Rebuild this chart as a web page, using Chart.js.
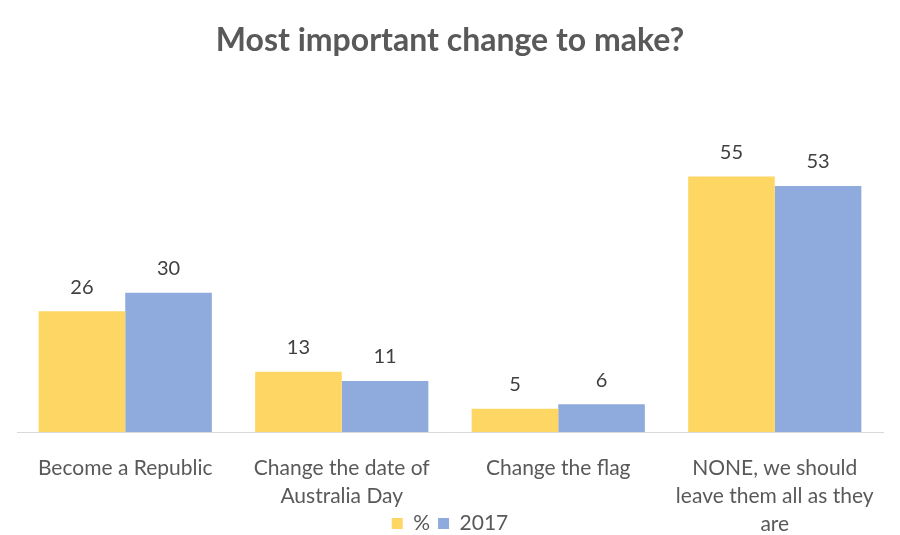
<!DOCTYPE html>
<html>
<head>
<meta charset="utf-8">
<script src="https://cdn.jsdelivr.net/npm/chart.js@4"></script>
<style>
  html, body { margin: 0; padding: 0; background: #fff; }
  #wrap { width: 900px; height: 535px; }
</style>
</head>
<body>
<div id="wrap"><canvas id="chart" width="900" height="535"></canvas></div>
<script>
const categories = [
    'Become a Republic',
    ['Change the date of', 'Australia Day'],
    'Change the flag',
    ['NONE, we should', 'leave them all as they', 'are']
];
const seriesNames = ['%', '2017'];
const pctValues = [26, 13, 5, 55];
const values2017 = [30, 11, 6, 53];
const colors = ['#FDD663', '#8FAADC'];

// draws the value above each bar
const barLabels = {
    id: 'barLabels',
    afterDatasetsDraw(chart) {
        const ctx = chart.ctx;
        ctx.save();
        ctx.font = '20px Lato';
        ctx.fillStyle = '#404040';
        ctx.textAlign = 'center';
        ctx.textBaseline = 'middle';
        chart.data.datasets.forEach((ds, i) => {
            chart.getDatasetMeta(i).data.forEach((bar, j) => {
                ctx.fillText(ds.data[j], bar.x, bar.y - 24);
            });
        });
        ctx.restore();
    }
};

// let the last tick label run down beside the legend, and drop the legend a bit
const unclipTicks = {
    id: 'unclipTicks',
    afterLayout(chart) {
        chart.scales.x.bottom = chart.height;
        chart.legend.top += 9;
    }
};

new Chart(document.getElementById('chart'), {
    type: 'bar',
    data: {
        labels: categories,
        datasets: [{
            label: seriesNames[0],
            data: pctValues,
            backgroundColor: colors[0],
            categoryPercentage: 0.8,
            barPercentage: 1.0
        }, {
            label: seriesNames[1],
            data: values2017,
            backgroundColor: colors[1],
            categoryPercentage: 0.8,
            barPercentage: 1.0
        }]
    },
    options: {
        responsive: false,
        animation: false,
        layout: { padding: { left: 17, right: 17, bottom: 0 } },
        plugins: {
            title: {
                display: true,
                text: 'Most important change to make?',
                color: '#595959',
                font: { family: 'Lato', size: 32, weight: 'bold' },
                padding: { top: 21, bottom: 94 }
            },
            legend: {
                position: 'bottom',
                labels: {
                    color: '#595959',
                    font: { family: 'Lato', size: 21 },
                    boxWidth: 11,
                    boxHeight: 11,
                    padding: 8
                }
            },
            tooltip: { enabled: false }
        },
        scales: {
            x: {
                grid: { display: false },
                border: { display: true, color: '#D9D9D9' },
                ticks: {
                    color: '#595959',
                    font: { family: 'Lato', size: 21, lineHeight: 1.33 },
                    padding: 14,
                    maxRotation: 0
                },
                afterFit(scale) { scale.height = 64; }
            },
            y: {
                display: false,
                min: 0,
                max: 60
            }
        }
    },
    plugins: [barLabels, unclipTicks]
});
</script>
</body>
</html>
